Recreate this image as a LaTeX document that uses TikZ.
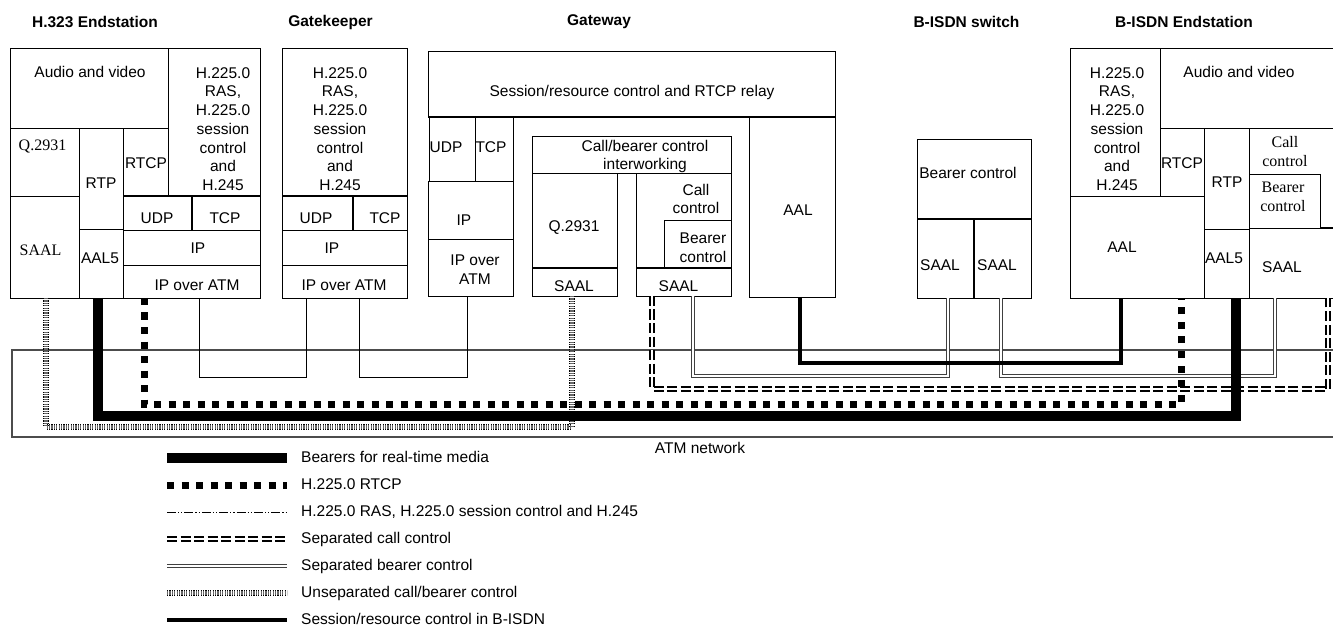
\documentclass[tikz,border=0pt]{standalone}
\usepackage{fontspec}
\setmainfont{Liberation Sans}
\newfontfamily\timesfont{Liberation Serif}

\tikzset{
  box/.style={draw, line width=0.8pt, inner sep=0pt, outer sep=0pt},
  divider/.style={line width=1.6pt},
  lbl/.style={inner sep=0pt, align=center, font=\fontsize{15.5}{18.7}\selectfont},
  serlbl/.style={lbl, font=\timesfont\fontsize{16}{19}\selectfont},
  title/.style={lbl, font=\fontsize{15.5}{18.7}\selectfont\bfseries},
  media/.style={line width=9.5pt},
  rtcp/.style={line width=7pt, dash pattern=on 7pt off 7.5pt},
  rasline/.style={line width=0.8pt},
  raslegend/.style={line width=0.7pt, dash pattern=on 9pt off 2pt on 1.2pt off 2pt on 1.2pt off 2pt},
  sepcall/.style={line width=1.6pt, double distance=2pt, dash pattern=on 10pt off 3.5pt},
  sepbearer/.style={line width=1pt, draw=black!75, double distance=2pt},
  unsep/.style={line width=1pt, double=black!60, double distance=4.5pt, dash pattern=on 1.2pt off 1.2pt},
  sessctl/.style={line width=3.5pt}
}

\begin{document}
\begin{tikzpicture}[x=1pt,y=-1pt]
  \useasboundingbox (0,0) rectangle (1333,628);
  \clip (0,0) rectangle (1333,628);

  % titles
  \foreach \n/\x/\txt in {h323title/95/H.323 Endstation, gktitle/330.5/Gatekeeper,
      gwtitle/599/Gateway, swtitle/966.5/B-ISDN switch, bistitle/1184/B-ISDN Endstation}
    \node[title] (\n) at (\x,22) {\txt};

  % protocol stacks
  \foreach \n/\xa/\ya/\xb/\yb in {
    hav/10/48/168/128, hras/168/48/260/196, hq/10/128/79/196, hrtp/79/128/123/229,
    hrtcp/123/128/168/196, hudp/123/196/192/230, htcp/192/196/260/230,
    hsaal/10/196/79/298, haal/79/229/123/298, hip/123/230/260/265, hipatm/123/265/260/298,
    kras/282/48/407/196, kudp/282/196/353/230, ktcp/353/196/407/230,
    kip/282/230/407/265, kipatm/282/265/407/298,
    wsess/428/51/835/117, wudp/429.5/117/475/181, wtcp/475/117/513/181,
    wip/428/181/513/239, wipatm/428/239/513/296,
    wiw/532/136/731/173, wq/532/173/617/268, wsaala/532/268/617/296,
    wcc/636/173/731/268, wbc/664/220/731/268, wsaalb/636/268/731/296,
    waal/749/117/835/297,
    sbc/917/139/1031/219, ssaala/917/219/974/298, ssaalb/974/219/1031/298,
    bras/1070/48/1160/196, bav/1160/48/1345/128, brtcp/1160/128/1204/196,
    brtp/1204/128/1249/229, bcc/1249/128/1345/228, bbc/1249/174/1320/228,
    baal/1070/196/1204/298, baal5/1204/229/1249/298, bsaal/1249/228/1345/298}
    \node[box, minimum width={(\xb-\xa)*1pt}, minimum height={(\yb-\ya)*1pt}]
      (\n) at ({(\xa+\xb)/2},{(\ya+\yb)/2}) {};

  \draw[divider] (hudp.north west) -- (htcp.north east);
  \draw[divider] (hudp.north east) -- (hudp.south east);
  \draw[divider] (kudp.north west) -- (ktcp.north east);
  \draw[divider] (kudp.north east) -- (kudp.south east);
  \draw[divider] (wsess.south west) -- (wsess.south east);
  \draw[divider] (wsaala.north west) -- (wsaala.north east);
  \draw[divider] (wsaalb.north west) -- (wsaalb.north east);
  \draw[divider] (sbc.south west) -- (sbc.south east);
  \draw[divider] (ssaala.north east) -- (ssaala.south east);
  \draw[divider] (bbc.south east) -- (bsaal.north east);

  % labels
  \foreach \n/\x/\y/\txt in {
    havt/90/72/Audio and video,
    hrast/223/129/{H.225.0\\RAS,\\H.225.0\\session\\control\\and\\H.245},
    hrtpt/101/183/RTP, hrtcpt/146/163/RTCP, hudpt/157/218/UDP, htcpt/225/218/TCP,
    hipt/198/248/IP, hipatmt/197/285/IP over ATM, haal5t/100/258/AAL5,
    krast/340/129/{H.225.0\\RAS,\\H.225.0\\session\\control\\and\\H.245},
    kudpt/316/218/UDP, ktcpt/385/218/TCP, kipt/332/248/IP, kipatmt/344/285/IP over ATM,
    wsesst/632/92/{Session/resource control and RTCP relay},
    wudpt/446/147/UDP, wtcpt/491/147/TCP, wipt/464/220/IP,
    wipatmt/475/269.5/{IP over\\ATM},
    wiwt/645/156.5/{Call/bearer control\\interworking},
    wqt/574/228/Q.2931, wcct/696/199/{Call\\control}, wbct/703/247.5/{Bearer\\control},
    wsaalat/574/286/SAAL, wsaalbt/678.5/286/SAAL, waalt/798/210/AAL,
    sbct/968/173/Bearer control, ssaalat/940/265/SAAL, ssaalbt/997/265/SAAL,
    brast/1117/129/{H.225.0\\RAS,\\H.225.0\\session\\control\\and\\H.245},
    bavt/1239/72/Audio and video, brtcpt/1182/163/RTCP, brtpt/1227/182/RTP,
    baalt/1122/247/AAL, baal5t/1224/258/AAL5, bsaalt/1282/267/SAAL}
    \node[lbl] (\n) at (\x,\y) {\txt};

  \foreach \n/\x/\y/\txt in {hqt/42.5/147/Q.2931, hsaalt/40.5/250/SAAL,
      bcct/1285/151.5/{Call\\control}, bbct/1283/197/{Bearer\\control}}
    \node[serlbl] (\n) at (\x,\y) {\txt};

  % ATM network
  \node[box, draw=black!70, line width=1.2pt, minimum width=1333pt, minimum height=87pt]
    (atm) at (678.5,393.5) {};
  \node[lbl] (atmt) at (700,448) {ATM network};

  % connections
  \draw[sepbearer] ([xshift=-38pt]wsaalb.south east) -- ++(0,80) -| ([xshift=2.5pt]ssaala.south);
  \draw[sepbearer] ([xshift=-1.5pt]ssaalb.south) -- ++(0,78) -| ([xshift=26pt]bsaal.south west);
  \draw[sepcall] ([xshift=16pt]wsaalb.south west) -- ++(0,93) -| ([xshift=79pt]bsaal.south west);
  \draw[sessctl] ([xshift=8pt]waal.south) -- ++(0,66) -| ([xshift=-16pt]baal.south);
  \draw[rasline] ([xshift=7.5pt]hipatm.south) -- ++(0,79) -| ([xshift=24pt]kipatm.south west);
  \draw[rasline] ([xshift=-48pt]kipatm.south east) -- ++(0,79) -| ([xshift=-3.5pt]wipatm.south);
  \draw[unsep] ([xshift=1.5pt]hsaal.south) -- ++(0,129) -| ([xshift=-2.5pt]wsaala.south);
  \draw[rtcp] ([xshift=21pt]hipatm.south west) -- ++(0,106) -| ([xshift=-23pt]baal.south east);
  \draw[media] ([xshift=-3pt]haal.south) -- ++(0,118) -| ([xshift=9.5pt]baal5.south);

  % legend
  \foreach \st/\txt [count=\i] in {media/Bearers for real-time media, rtcp/H.225.0 RTCP,
      raslegend/{H.225.0 RAS, H.225.0 session control and H.245},
      sepcall/Separated call control, sepbearer/Separated bearer control,
      unsep/{Unseparated call/bearer control}, sessctl/{Session/resource control in B-ISDN}}
  {
    \node[lbl, anchor=west, text height=11pt, text depth=3pt] (leg\i) at (301,{458+27*(\i-1)}) {\txt};
    \draw[\st] ([xshift=-134pt]leg\i.west) -- ([xshift=-14pt]leg\i.west);
  }
\end{tikzpicture}
\end{document}
